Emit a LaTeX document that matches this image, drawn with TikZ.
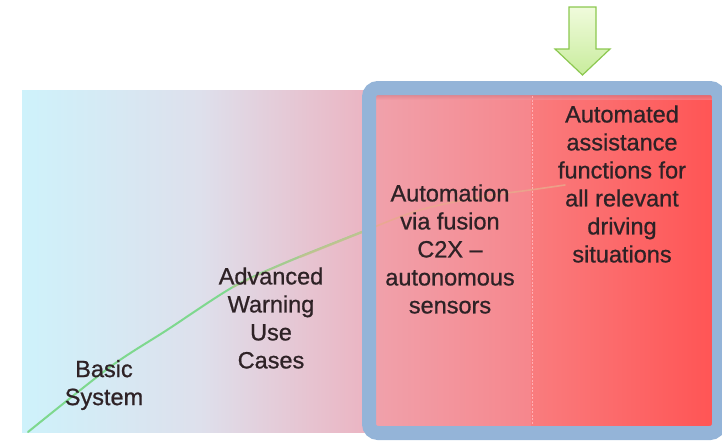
\documentclass[tikz,border=0pt]{standalone}
\usepackage{fontspec}
\setmainfont{Liberation Sans}
\newfontfamily\labelfont[FakeBold=0.8]{Liberation Sans}
\definecolor{frameblue}{HTML}{94B4D8}
\definecolor{txt}{HTML}{2E2226}
\definecolor{curvegreen}{HTML}{7ED88E}
\definecolor{curvetan}{HTML}{CCC090}
\definecolor{curvefaint}{HTML}{E8AA8C}
\definecolor{arrowline}{HTML}{8CC850}
\definecolor{arrowtop}{HTML}{F0FBDC}
\definecolor{arrowbot}{HTML}{C8EC9C}
\definecolor{bgcyan}{HTML}{CEF2FB}
\definecolor{bglav}{HTML}{DEE0EC}
\definecolor{bgpink}{HTML}{ECB2C0}
\definecolor{rpinkA}{HTML}{F0A2AC}
\definecolor{rpinkB}{HTML}{F6868C}
\definecolor{redA}{HTML}{F97C7E}
\definecolor{redB}{HTML}{FF5454}
\definecolor{shadowtop}{HTML}{C86E78}
\definecolor{shadowbot}{HTML}{F096A0}
\definecolor{divider}{HTML}{FFAFB4}
\tikzset{
  label text/.style={align=center, text=txt, inner sep=0pt,
    font=\labelfont\fontsize{23.5}{28}\selectfont},
}
\begin{document}
\begin{tikzpicture}[x=1pt,y=-1pt]
\useasboundingbox (0,0) rectangle (722,440);

% background band: cyan through lavender to pink
\shade[left color=bgcyan, right color=bglav] (22,90) rectangle (200,432);
\shade[left color=bglav, right color=bgpink] (199.5,90) rectangle (376,432);

% growth curve, green turning tan towards the right
\draw[curvegreen, line width=2, line cap=round]
  plot[smooth, tension=0.5] coordinates {(28,432) (110,367) (167,330) (233,287) (287,262) (367,230)};
\draw[curvetan, line width=2, line cap=round, opacity=0.5]
  plot[smooth, tension=0.5] coordinates {(233,287) (287,262) (367,230)};
\draw[curvetan, line width=2.2, line cap=round, opacity=0.6]
  plot[smooth, tension=0.5] coordinates {(300,257) (335,243) (367,230)};

% highlighted region, two columns
\shade[left color=rpinkA, right color=rpinkB] (370,90) rectangle (532,430);
\shade[left color=redA, right color=redB] (531.5,90) rectangle (716,430);
\shade[top color=shadowtop, bottom color=shadowbot, opacity=0.5] (370,94) rectangle (716,99);

% curve continuing faintly through the region
\draw[curvefaint, line width=1.6, line cap=round, opacity=0.8]
  plot[smooth, tension=0.6] coordinates {(367,230) (420,210) (480,197) (530,190) (565,185)};

% column divider
\draw[divider, line width=1, dash pattern=on 2pt off 1.5pt] (532,96) -- (532,425);

% blue frame
\draw[frameblue, line width=14, rounded corners=9] (369,88) rectangle (719,433);

% down arrow
\shade[top color=arrowtop, bottom color=arrowbot, draw=arrowline, line width=1.2, line join=miter]
  (569,7) -- (596,7) -- (596,49) -- (610,49) -- (582.5,75) -- (555,49) -- (569,49) -- cycle;

% labels
\node[label text] (basic) at (104,385) {Basic\\System};
\node[label text] (warn) at (271,318) {Advanced\\Warning\\Use\\Cases};
\node[label text] (fusion) at (450,249) {Automation\\via fusion\\C2X –\\autonomous\\sensors};
\node[label text] (assist) at (622,184) {Automated\\assistance\\functions for\\all relevant\\driving\\situations};
\end{tikzpicture}
\end{document}
